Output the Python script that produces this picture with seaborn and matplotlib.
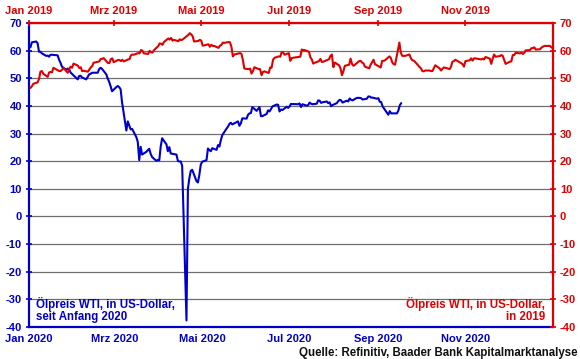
import matplotlib
matplotlib.use("Agg")
import matplotlib.pyplot as plt
import pandas as pd
import seaborn as sns

# WTI 2020 (bottom axis, blue)
days_2020 = ("01-02 01-03 01-06 01-07 01-08 01-09 01-10 01-13 01-14 01-15 01-16 01-17 01-21 01-22 01-23 01-24 "
             "01-27 01-28 01-29 01-30 01-31 02-03 02-04 02-05 02-06 02-07 02-10 02-11 02-12 02-13 02-14 02-18 "
             "02-19 02-20 02-21 02-24 02-25 02-26 02-27 02-28 03-02 03-03 03-04 03-05 03-06 03-09 03-10 03-11 "
             "03-12 03-13 03-16 03-17 03-18 03-19 03-20 03-23 03-24 03-25 03-26 03-27 03-30 03-31 04-01 04-02 "
             "04-03 04-06 04-07 04-08 04-09 04-13 04-14 04-15 04-16 04-17 04-20 04-21 04-22 04-23 04-24 04-27 "
             "04-28 04-29 04-30 05-01 05-04 05-05 05-06 05-07 05-08 05-11 05-12 05-13 05-14 05-15 05-18 05-19 "
             "05-20 05-21 05-22 05-26 05-27 05-28 05-29 06-01 06-02 06-03 06-04 06-05 06-08 06-09 06-10 06-11 "
             "06-12 06-15 06-16 06-17 06-18 06-19 06-22 06-23 06-24 06-25 06-26 06-29 06-30 07-01 07-02 07-06 "
             "07-07 07-08 07-09 07-10 07-13 07-14 07-15 07-16 07-17 07-20 07-21 07-22 07-23 07-24 07-27 07-28 "
             "07-29 07-30 07-31 08-03 08-04 08-05 08-06 08-07 08-10 08-11 08-12 08-13 08-14 08-17 08-18 08-19 "
             "08-20 08-21 08-24 08-25 08-26 08-27 08-28 08-31 09-01 09-02 09-03 09-04 09-08 09-09 09-10 09-11 "
             "09-14 09-15 09-16 09-17").split()
wti_2020 = [61.2, 63.0, 63.3, 62.7, 59.6, 59.6, 59.0, 58.1, 58.2, 57.8, 58.5, 58.5, 58.3, 56.7, 55.6, 54.2,
            53.1, 53.5, 53.3, 52.1, 51.6, 50.1, 49.6, 50.8, 50.9, 50.3, 49.6, 50.5, 51.4, 51.6, 52.0, 52.0,
            53.3, 53.8, 53.4, 51.4, 49.9, 48.7, 47.1, 45.3, 46.8, 47.2, 46.8, 46.0, 41.3, 31.1, 34.4, 32.9,
            31.5, 31.7, 28.7, 26.9, 20.4, 25.2, 22.4, 23.4, 24.0, 24.5, 22.6, 21.5, 20.1, 20.5, 20.3, 25.3,
            28.3, 26.1, 23.6, 25.1, 22.8, 22.4, 20.1, 19.9, 19.9, 18.3, -37.6, 10.0, 13.8, 16.5, 16.9, 12.8,
            12.3, 15.1, 18.8, 19.8, 20.4, 24.6, 24.0, 23.6, 24.7, 24.1, 25.8, 25.3, 27.6, 29.4, 31.8, 32.5,
            33.5, 33.9, 33.3, 34.4, 32.8, 33.7, 35.5, 35.4, 36.8, 37.3, 37.4, 39.6, 38.2, 38.9, 39.6, 36.3,
            36.3, 37.1, 38.4, 38.0, 38.8, 39.8, 40.5, 40.4, 38.0, 38.7, 38.5, 39.7, 39.3, 39.8, 40.7, 40.6,
            40.6, 40.9, 39.6, 40.6, 40.1, 40.3, 41.2, 40.8, 40.6, 40.8, 42.0, 41.9, 41.1, 41.3, 41.6, 41.0,
            41.3, 39.9, 40.3, 41.0, 41.7, 42.2, 42.0, 41.2, 41.9, 41.6, 42.7, 42.2, 42.0, 42.9, 42.9, 42.9,
            42.8, 42.3, 42.6, 43.4, 43.4, 43.0, 43.0, 42.6, 42.8, 41.5, 41.4, 39.8, 36.8, 38.1, 37.3, 37.3,
            37.3, 38.3, 40.2, 41.0]

# WTI 2019 (top axis, red)
days_2019 = ("01-02 01-03 01-04 01-07 01-08 01-09 01-10 01-11 01-14 01-15 01-16 01-17 01-18 01-22 01-23 01-24 "
             "01-25 01-28 01-29 01-30 01-31 02-01 02-04 02-05 02-06 02-07 02-08 02-11 02-12 02-13 02-14 02-15 "
             "02-19 02-20 02-21 02-22 02-25 02-26 02-27 02-28 03-01 03-04 03-05 03-06 03-07 03-08 03-11 03-12 "
             "03-13 03-14 03-15 03-18 03-19 03-20 03-21 03-22 03-25 03-26 03-27 03-28 03-29 04-01 04-02 04-03 "
             "04-04 04-05 04-08 04-09 04-10 04-11 04-12 04-15 04-16 04-17 04-18 04-22 04-23 04-24 04-25 04-26 "
             "04-29 04-30 05-01 05-02 05-03 05-06 05-07 05-08 05-09 05-10 05-13 05-14 05-15 05-16 05-17 05-20 "
             "05-21 05-22 05-23 05-24 05-28 05-29 05-30 05-31 06-03 06-04 06-05 06-06 06-07 06-10 06-11 06-12 "
             "06-13 06-14 06-17 06-18 06-19 06-20 06-21 06-24 06-25 06-26 06-27 06-28 07-01 07-02 07-03 07-05 "
             "07-08 07-09 07-10 07-11 07-12 07-15 07-16 07-17 07-18 07-19 07-22 07-23 07-24 07-25 07-26 07-29 "
             "07-30 07-31 08-01 08-02 08-05 08-06 08-07 08-08 08-09 08-12 08-13 08-14 08-15 08-16 08-19 08-20 "
             "08-21 08-22 08-23 08-26 08-27 08-28 08-29 08-30 09-03 09-04 09-05 09-06 09-09 09-10 09-11 09-12 "
             "09-13 09-16 09-17 09-18 09-19 09-20 09-23 09-24 09-25 09-26 09-27 09-30 10-01 10-02 10-03 10-04 "
             "10-07 10-08 10-09 10-10 10-11 10-14 10-15 10-16 10-17 10-18 10-21 10-22 10-23 10-24 10-25 10-28 "
             "10-29 10-30 10-31 11-01 11-04 11-05 11-06 11-07 11-08 11-11 11-12 11-13 11-14 11-15 11-18 11-19 "
             "11-20 11-21 11-22 11-25 11-26 11-27 11-29 12-02 12-03 12-04 12-05 12-06 12-09 12-10 12-11 12-12 "
             "12-13 12-16 12-17 12-18 12-19 12-20 12-23 12-24 12-26 12-27 12-30 12-31").split()
wti_2019 = [46.5, 47.1, 48.0, 48.5, 49.8, 52.4, 52.6, 51.6, 50.5, 52.1, 52.3, 52.1, 53.8, 52.6, 52.6, 53.1,
            53.7, 52.0, 53.3, 54.2, 53.8, 55.3, 54.6, 53.7, 54.0, 52.6, 52.7, 52.4, 53.1, 53.9, 54.4, 55.6,
            56.1, 57.0, 57.0, 57.3, 55.5, 55.5, 56.9, 57.2, 55.8, 56.6, 56.6, 56.2, 56.7, 56.1, 56.8, 56.9,
            58.3, 58.6, 58.5, 59.1, 59.0, 60.2, 60.0, 59.0, 58.8, 59.9, 59.4, 59.3, 60.1, 61.6, 62.6, 62.5,
            62.1, 63.1, 64.4, 64.0, 64.6, 63.6, 63.9, 63.4, 64.1, 63.8, 64.0, 65.7, 66.3, 65.9, 65.2, 63.3,
            63.5, 63.9, 63.6, 61.8, 61.9, 62.3, 61.4, 62.1, 61.7, 61.7, 61.0, 61.8, 62.0, 62.9, 62.8, 63.1,
            63.0, 61.4, 57.9, 58.6, 59.1, 58.8, 56.6, 53.5, 53.3, 53.5, 51.7, 52.6, 54.0, 53.3, 53.3, 51.1,
            52.3, 52.5, 51.9, 53.9, 53.8, 56.7, 57.4, 57.9, 57.8, 59.4, 59.4, 58.5, 59.1, 56.3, 57.3, 57.5,
            57.7, 57.8, 60.4, 60.2, 60.2, 59.6, 57.6, 56.8, 55.3, 55.6, 56.2, 57.0, 55.9, 56.0, 56.2, 56.9,
            58.1, 58.6, 54.0, 55.7, 54.7, 53.6, 51.1, 52.5, 54.5, 54.9, 57.1, 55.2, 54.5, 54.9, 56.2, 56.3,
            55.7, 55.4, 54.2, 53.6, 54.9, 55.8, 56.7, 55.1, 53.9, 56.3, 56.3, 56.5, 57.9, 57.4, 55.8, 55.1,
            54.9, 62.9, 59.3, 58.1, 58.1, 58.1, 58.6, 57.3, 56.5, 56.4, 55.9, 54.1, 53.6, 52.6, 52.5, 52.8,
            52.8, 52.6, 52.6, 53.6, 54.7, 53.6, 52.8, 53.4, 53.9, 53.8, 53.3, 54.2, 56.0, 56.2, 56.7, 55.8,
            55.5, 55.1, 54.2, 56.2, 56.5, 57.2, 56.4, 57.2, 57.2, 56.9, 56.8, 57.1, 56.8, 57.7, 57.1, 55.2,
            57.1, 58.6, 57.8, 58.0, 58.4, 58.1, 55.2, 56.0, 56.1, 58.4, 58.4, 59.2, 59.0, 59.2, 58.8, 59.2,
            60.1, 60.2, 60.9, 60.9, 61.2, 60.4, 60.5, 61.1, 61.7, 61.7, 61.7, 61.1]

month_ticks = ["01-01", "03-01", "05-01", "07-01", "09-01", "11-01"]
month_names = ["Jan", "Mrz", "Mai", "Jul", "Sep", "Nov"]
y_ticks = list(range(-40, 71, 10))

BLUE = "#0000CC"
RED = "#E00000"

sns.set_style("white")
plt.rcParams["font.family"] = ["Liberation Sans", "DejaVu Sans"]
plt.rcParams["font.weight"] = "bold"
plt.rcParams["axes.unicode_minus"] = False

fig, ax = plt.subplots(figsize=(5.8, 3.59), dpi=100)
fig.subplots_adjust(left=0.05, right=0.9534, top=0.936, bottom=0.089)
ax2 = ax.twinx()
ax3 = ax2.twiny()

d20 = pd.to_datetime(["2020-" + d for d in days_2020])
d19 = pd.to_datetime(["2019-" + d for d in days_2019])
sns.lineplot(x=d20, y=wti_2020, ax=ax, color=BLUE, lw=1.5, zorder=3)
sns.lineplot(x=d19, y=wti_2019, ax=ax3, color=RED, lw=1.5, zorder=3)

for a in (ax, ax2, ax3):
    a.set_ylim(-40, 70)
ax.set_yticks(y_ticks)
ax2.set_yticks(y_ticks)
ax.yaxis.grid(True, color="#6e6e6e", lw=0.9)
ax.set_xlim(pd.Timestamp("2020-01-01"), pd.Timestamp("2021-01-01"))
ax3.set_xlim(pd.Timestamp("2019-01-01"), pd.Timestamp("2020-01-01"))
ax.set_xticks(pd.to_datetime(["2020-" + m for m in month_ticks]))
ax.set_xticklabels([f"{n} 2020" for n in month_names])
ax3.set_xticks(pd.to_datetime(["2019-" + m for m in month_ticks]))
ax3.set_xticklabels([f"{n} 2019" for n in month_names])

fs = 8.0
fs_txt = 8.3
ax.tick_params(axis="both", colors=BLUE, labelsize=fs, direction="inout", length=4, width=1.2, pad=3)
ax2.tick_params(axis="y", colors=RED, labelsize=fs, direction="inout", length=4, width=1.2, pad=3)
ax3.tick_params(axis="x", colors=RED, labelsize=fs, direction="inout", length=4, width=1.2, pad=3)
for t in ax.get_xticklabels() + ax.get_yticklabels() + ax2.get_yticklabels() + ax3.get_xticklabels():
    t.set_fontweight("bold")

for a in (ax, ax2, ax3):
    for s in a.spines.values():
        s.set_visible(False)
ax.spines["left"].set_visible(True)
ax.spines["left"].set_color(BLUE)
ax.spines["bottom"].set_visible(True)
ax.spines["bottom"].set_color(BLUE)
ax3.spines["top"].set_visible(True)
ax3.spines["top"].set_color(RED)
ax2.spines["right"].set_visible(True)
ax2.spines["right"].set_color(RED)
for a in (ax, ax2, ax3):
    for s in a.spines.values():
        s.set_linewidth(1.6)
for a in (ax, ax2, ax3):
    a.set_xlabel("")
    a.set_ylabel("")

ax.text(0.013, 0.012, "Ölpreis WTI, in US-Dollar,\nseit Anfang 2020", transform=ax.transAxes,
        color=BLUE, fontsize=fs_txt, fontweight="bold", ha="left", va="bottom", linespacing=1.0)
ax.text(0.985, 0.012, "Ölpreis WTI, in US-Dollar,\nin 2019", transform=ax.transAxes,
        color=RED, fontsize=fs_txt, fontweight="bold", ha="right", va="bottom", linespacing=1.0,
        multialignment="right")
fig.text(0.995, 0.018, "Quelle: Refinitiv, Baader Bank Kapitalmarktanalyse", color="#111111",
         fontsize=fs_txt, fontweight="bold", ha="right", va="center")

fig.savefig("out.png", dpi=100)
